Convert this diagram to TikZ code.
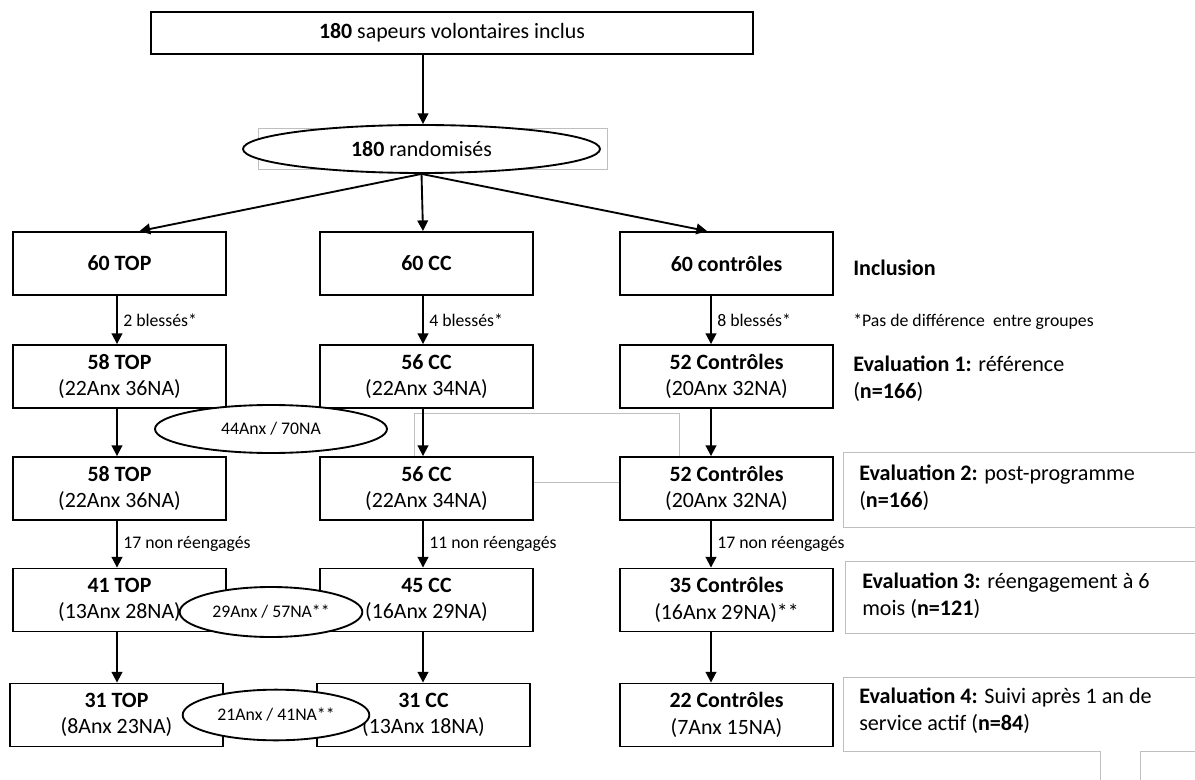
\documentclass[tikz,border=0pt]{standalone}
\usepackage{fontspec}
\setmainfont{Carlito}
\usepackage{tikz}
\usetikzlibrary{arrows.meta}
\usetikzlibrary{shapes}

\begin{document}
\begin{tikzpicture}[
			x=0.75pt, y=-0.75pt,
			X/.style = {rectangle, draw, fill=white,% boxes of the three arms
				line width=1.4pt, minimum width=159.75pt, minimum height=47.25pt,
				inner sep=2pt, align=center,
				font=\fontsize{16.4}{20}\selectfont},
			E/.style = {ellipse, draw, fill=white, line width=1.4pt,
				inner sep=1pt, font=\fontsize{13.3}{16}\selectfont},
			L/.style = {anchor=west, inner sep=4pt,% labels beside the arrows
				font=\fontsize{13.3}{16}\selectfont},
			R/.style = {anchor=west, inner sep=0pt, align=left,
				font=\fontsize{16.6}{20.25}\selectfont},
			A/.style = {-{Triangle[length=8pt,width=8pt]}, line width=1.4pt},
			G/.style = {draw=gray!50, line width=0.75pt},
			]
			\useasboundingbox (0,0) rectangle (1195,780);
			% thin grey frames left behind
			\draw[G] (258,129) rectangle (607,170);
			\draw[G] (414,413) rectangle (679,482);
			\draw[G] (1195,452) -- (843,452) -- (843,527) -- (1195,527);
			\draw[G] (1195,561) -- (845,561) -- (845,633) -- (1195,633);
			\draw[G] (1100,780) -- (1100,751) -- (843,751) -- (843,677) -- (1195,677);
			\draw[G] (1140,780) -- (1140,751) -- (1195,751);
			% top
			\node[X, minimum width=451.5pt, minimum height=31.5pt] (top) at (452,33)
				{\textbf{180} sapeurs volontaires inclus};
			\node[E, minimum width=267.75pt, minimum height=36pt,
				font=\fontsize{16.4}{20}\selectfont] (rand) at (421.5,149) {\textbf{180} randomisés};
			\coordinate (aT) at (117,0);
			\coordinate (aC) at (423,0);
			\coordinate (aK) at (711,0);
			% the three arms, row by row
			\foreach \r/\y/\dx/\txtT/\txtC/\txtK in {
				1/263.5/0/{\textbf{60 TOP}}/{\textbf{60 CC}}/{\textbf{60 contrôles}},
				2/376.5/0/{\textbf{58 TOP}\\(22Anx 36NA)}/{\textbf{56 CC}\\(22Anx 34NA)}/{\textbf{52 Contrôles}\\(20Anx 32NA)},
				3/488.5/0/{\textbf{58 TOP}\\(22Anx 36NA)}/{\textbf{56 CC}\\(22Anx 34NA)}/{\textbf{52 Contrôles}\\(20Anx 32NA)},
				4/600/0/{\textbf{41 TOP}\\(13Anx 28NA)}/{\textbf{45 CC}\\(16Anx 29NA)}/{\textbf{35 Contrôles}\\(16Anx 29NA)**},
				5/715/-3/{\textbf{31 TOP}\\(8Anx 23NA)}/{\textbf{31 CC}\\(13Anx 18NA)}/{\textbf{22 Contrôles}\\(7Anx 15NA)}}
			{
				\node[X] (T\r) at (119.5+\dx,\y) {\txtT};
				\node[X] (C\r) at (426.5+\dx,\y) {\txtC};
				\node[X] (K\r) at (726.5,\y) {\txtK};
			}
			\draw[A] (aC |- top.south) -- (aC |- rand.north);
			\draw[A] (rand.south) -- ([xshift=15pt]T1.north);
			\draw[A] (rand.south) -- (aC |- C1.north);
			\draw[A] (rand.south) -- ([xshift=-14.6pt]K1.north);
			\foreach \i/\j in {2/3,4/5}
			\foreach \c in {T,C,K}
			\draw[A] (a\c |- \c\i.south) -- (a\c |- \c\j.north);
			\foreach \i/\j/\nT/\nC/\nK in {1/2/2 blessés*/4 blessés*/8 blessés*,
				3/4/17 non réengagés/11 non réengagés/17 non réengagés}
			{
				\draw[A] (aT |- T\i.south) -- node[L] {\nT} (aT |- T\j.north);
				\draw[A] (aC |- C\i.south) -- node[L] {\nC} (aC |- C\j.north);
				\draw[A] (aK |- K\i.south) -- node[L] {\nK} (aK |- K\j.north);
			}
			% pooled counts
			\node[E, minimum width=174pt, minimum height=36pt] (P1) at (271,429) {44Anx / 70NA};
			\node[E, minimum width=137pt, minimum height=37.5pt] (P2) at (271,612) {29Anx / 57NA**};
			\node[E, minimum width=140pt, minimum height=38pt] (P3) at (276,715) {21Anx / 41NA**};
			% steps on the right
			\node[R] (inc) at (853,268) {\textbf{Inclusion}};
			\node[L, inner sep=0pt] (note) at (853,322) {*Pas de différence~ entre groupes};
			\node[R] (ev1) at (853,379) {\textbf{Evaluation 1:} référence\\(\textbf{n=166})};
			\node[R] (ev2) at (859,488) {\textbf{Evaluation 2:} post-programme\\(\textbf{n=166})};
			\node[R] (ev3) at (862,596) {\textbf{Evaluation 3:} réengagement à 6\\mois (\textbf{n=121})};
			\node[R] (ev4) at (859,711) {\textbf{Evaluation 4:} Suivi après 1 an de\\service actif (\textbf{n=84})};
		\end{tikzpicture}
\end{document}
